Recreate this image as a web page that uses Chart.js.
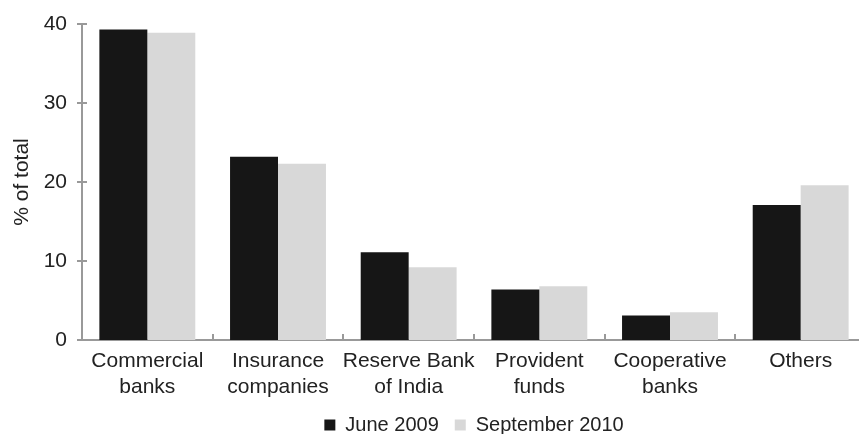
<!DOCTYPE html>
<html>
<head>
<meta charset="utf-8">
<script src="https://cdn.jsdelivr.net/npm/chart.js@4"></script>
<style>
  html, body { margin: 0; padding: 0; background: #fff; overflow: hidden; }
  #wrap { position: relative; width: 866px; height: 445px; }
</style>
</head>
<body>
<div id="wrap"><canvas id="chart"></canvas></div>
<script>
const categories = [['Commercial', 'banks'], ['Insurance', 'companies'], ['Reserve Bank', 'of India'], ['Provident', 'funds'], ['Cooperative', 'banks'], ['Others']];
const june2009 = [39.3, 23.2, 11.1, 6.4, 3.1, 17.1];
const sept2010 = [38.9, 22.3, 9.2, 6.8, 3.5, 19.6];
const yTicks = [0, 10, 20, 30, 40];

const axisColor = '#999';
const textColor = '#222';
const fontFamily = '"Liberation Sans", Arial, Helvetica, sans-serif';

// little tick marks: y ticks cross the axis, x ticks point up between categories
const axisTicks = {
    id: 'axisTicks',
    afterDraw(chart) {
        const { ctx, chartArea, scales: { x, y } } = chart;
        ctx.save();
        ctx.strokeStyle = axisColor;
        ctx.lineWidth = 2;
        ctx.beginPath();
        y.ticks.forEach((t, i) => {
            const py = Math.round(y.getPixelForTick(i));
            ctx.moveTo(chartArea.left - 5, py);
            ctx.lineTo(chartArea.left + 5, py);
        });
        for (let i = 1; i < categories.length; i++) {
            const px = Math.round((x.getPixelForValue(i - 1) + x.getPixelForValue(i)) / 2);
            ctx.moveTo(px, chartArea.bottom);
            ctx.lineTo(px, chartArea.bottom - 6);
        }
        ctx.stroke();
        ctx.restore();
    }
};

new Chart(document.getElementById('chart'), {
    type: 'bar',
    data: {
        labels: categories,
        datasets: [
            { label: 'June 2009', data: june2009, backgroundColor: '#161616' },
            { label: 'September 2010', data: sept2010, backgroundColor: '#d8d8d8' }
        ]
    },
    options: {
        responsive: true,
        maintainAspectRatio: false,
        animation: false,
        layout: { padding: { top: 24, right: 0, left: 0, bottom: 0 } },
        datasets: { bar: { categoryPercentage: 0.734, barPercentage: 1, borderWidth: 0 } },
        plugins: {
            legend: {
                position: 'bottom',
                fullSize: false,
                labels: {
                    color: textColor,
                    font: { family: fontFamily, size: 20 },
                    boxWidth: 11,
                    boxHeight: 11,
                    padding: 16
                }
            },
            tooltip: { enabled: false }
        },
        scales: {
            x: {
                afterFit(scale) { scale.height = 59; },
                grid: { display: false, drawTicks: false },
                border: { display: true, color: axisColor, width: 2 },
                ticks: {
                    color: textColor,
                    font: { family: fontFamily, size: 21 },
                    padding: 9,
                    maxRotation: 0,
                    autoSkip: false
                }
            },
            y: {
                min: 0,
                max: 40,
                afterFit(scale) { scale.width = 82; scale.paddingTop = 0; },
                afterBuildTicks(scale) { scale.ticks = yTicks.map(v => ({ value: v })); },
                grid: { display: false, drawTicks: false },
                border: { display: true, color: axisColor, width: 2 },
                ticks: {
                    color: textColor,
                    font: { family: fontFamily, size: 21 },
                    padding: 15
                },
                title: {
                    display: true,
                    text: '% of total',
                    color: textColor,
                    font: { family: fontFamily, size: 21 },
                    padding: { top: 10, bottom: 0 }
                }
            }
        }
    },
    plugins: [axisTicks]
});
</script>
</body>
</html>
